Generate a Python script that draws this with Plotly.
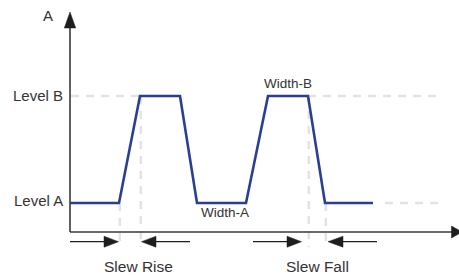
import plotly.graph_objects as go

# ---- data (time units along x, signal level: 0 = Level A, 1 = Level B) ----
times = [0, 49, 70, 110, 127, 176, 198, 238, 255, 303]
levels = [0, 0, 1, 1, 0, 0, 1, 1, 0, 0]
level_names = ["Level A", "Level B"]
level_values = [0, 1]

# ---- layout helpers (pixel placement of decorations) ----
W, H = 459, 278
X0 = 70          # pixel x of the time origin (y axis)
YA, YB = 203, 96  # pixel y of Level A and Level B
k = YA - YB


def px(x):
    return x - X0


def py(y):
    return (YA - y) / k


BLUE = "#2a3f94"
GRAY = "#e3e3e3"
AX = "#3a3a3a"
TXT = "#333333"
FONT = "Liberation Sans, Arial, Helvetica, sans-serif"

fig = go.Figure()

# dashed guide lines
dash = "8px,7px"
guides = [
    ([px(71), px(140)], [level_values[1], level_values[1]]),
    ([px(308), px(438)], [level_values[1], level_values[1]]),
    ([px(385), px(438)], [level_values[0], level_values[0]]),
]
for gx, gy in guides:
    fig.add_trace(go.Scatter(x=gx, y=gy, mode="lines",
                             line=dict(color=GRAY, width=2.5, dash=dash),
                             hoverinfo="skip", showlegend=False))
vguides = [(times[1], levels[1]), (times[2], levels[2]),
           (times[7], levels[7]), (times[8], levels[8])]
for t, lv in vguides:
    fig.add_trace(go.Scatter(x=[t + 0.8, t + 0.8], y=[lv, py(247)], mode="lines",
                             line=dict(color=GRAY, width=2.5, dash=dash),
                             hoverinfo="skip", showlegend=False))

# waveform
fig.add_trace(go.Scatter(x=times, y=levels, mode="lines",
                         line=dict(color=BLUE, width=2.6),
                         hoverinfo="skip", showlegend=False))

shapes = []
# axes
shapes.append(dict(type="line", xref="x", yref="y", x0=px(70), x1=px(70),
                   y0=py(232), y1=py(26), line=dict(color=AX, width=1.6)))
shapes.append(dict(type="line", xref="x", yref="y", x0=px(70), x1=px(453),
                   y0=py(232), y1=py(232), line=dict(color=AX, width=1.6)))


def tri(pts):
    d = "M " + " L ".join(f"{px(a)},{py(b)}" for a, b in pts) + " Z"
    return dict(type="path", xref="x", yref="y", path=d,
                fillcolor="#1e1e1e", line=dict(color="#1e1e1e", width=0.5))


shapes.append(tri([(70, 12), (64.3, 28), (75.7, 28)]))
shapes.append(tri([(462, 232), (451.5, 226), (451.5, 238)]))

# slew arrows
ay = 241.7
arrows = [((70, 104), (118.5, 'r')), ((190, 156), (141.5, 'l')),
          ((253, 287), (301.5, 'r')), ((377, 343), (328, 'l'))]
for (x_start, x_base), (tip, d) in arrows:
    shapes.append(dict(type="line", xref="x", yref="y", x0=px(x_start), x1=px(x_base),
                       y0=py(ay), y1=py(ay), line=dict(color="#1e1e1e", width=1.3)))
    shapes.append(tri([(tip, ay), (x_base, ay - 5.5), (x_base, ay + 5.5)]))

annotations = []


def label(text, x, y, size, xanchor="center"):
    annotations.append(dict(text=text, x=px(x), y=py(y), xref="x", yref="y",
                            showarrow=False, xanchor=xanchor, yanchor="middle",
                            font=dict(family=FONT, size=size, color=TXT)))


label("A", 48, 15.5, 15)
label(level_names[1], 65, 95, 15, "right")
label(level_names[0], 65, 200, 15, "right")
label("Width-B", 288, 83, 13.5)
label("Width-A", 224.5, 212, 13.5)
label("Slew Rise", 138, 266.5, 15.5)
label("Slew Fall", 317, 266.5, 15.5)

fig.update_layout(
    width=W, height=H,
    margin=dict(l=0, r=0, t=0, b=0),
    paper_bgcolor="white", plot_bgcolor="white",
    xaxis=dict(range=[px(0), px(W)], visible=False, fixedrange=True),
    yaxis=dict(range=[py(H), py(0)], visible=False, fixedrange=True),
    shapes=shapes, annotations=annotations,
    showlegend=False,
)

fig.write_html("out.html", config={"displayModeBar": False},
               post_script="document.body.style.margin='0';document.body.style.overflow='hidden';")
